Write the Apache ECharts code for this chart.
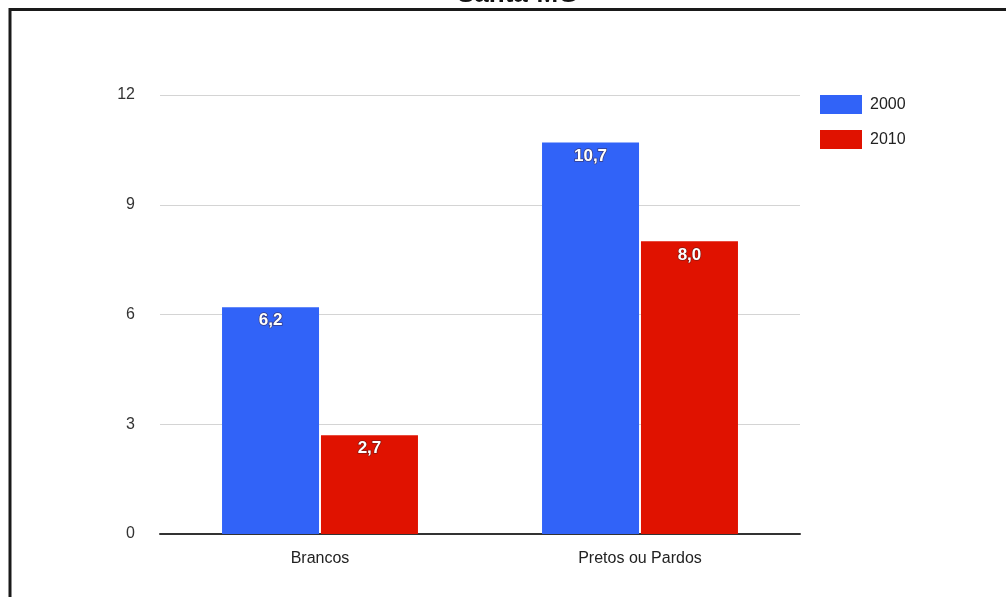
<!DOCTYPE html>
<html>
<head>
<meta charset="utf-8">
<style>
  html, body { margin: 0; padding: 0; background: #fff; }
  #chart { width: 1006px; height: 597px; }
</style>
<script src="https://cdn.jsdelivr.net/npm/echarts@6/dist/echarts.min.js"></script>
</head>
<body>
<div id="chart"></div>
<script>
// Categories and yearly values
const categories = ['Brancos', 'Pretos ou Pardos'];
const seriesNames = ['2000', '2010'];
const values2000 = [6.2, 10.7];
const values2010 = [2.7, 8.0];
const yTicks = [0, 3, 6, 9, 12];

const colors = ['#3163F8', '#E01200'];
const fmt = v => v.toFixed(1).replace('.', ',');

const chart = echarts.init(document.getElementById('chart'), null, { renderer: 'canvas' });

function barSeries(name, data, color) {
  return {
    name: name,
    type: 'bar',
    data: data,
    barWidth: 97,
    barGap: '2%',
    itemStyle: { color: color },
    label: {
      show: true,
      position: 'insideTop',
      distance: 5,
      formatter: p => fmt(p.value),
      color: '#fff',
      fontFamily: 'Liberation Sans, Arial, sans-serif',
      fontWeight: 'bold',
      fontSize: 17,
      textBorderColor: 'rgba(60,30,30,0.55)',
      textBorderWidth: 1.5
    }
  };
}

chart.setOption({
  animation: false,
  backgroundColor: '#fff',
  title: {
    text: 'Santa-MG',
    left: 452,
    top: -23,
    textStyle: {
      fontFamily: 'Liberation Sans, Arial, sans-serif',
      fontWeight: 'bold',
      fontSize: 26,
      color: '#111'
    }
  },
  graphic: [{
    type: 'polyline',
    shape: { points: [[10, 600], [10, 9.5], [1010, 9.5]] },
    style: { stroke: '#1a1a1a', lineWidth: 3, fill: null },
    silent: true
  }],
  legend: {
    data: seriesNames,
    orient: 'vertical',
    left: 815,
    top: 90,
    itemWidth: 42,
    itemHeight: 19,
    itemGap: 16,
    icon: 'rect',
    textStyle: {
      fontFamily: 'Liberation Sans, Arial, sans-serif',
      fontSize: 16,
      color: '#222',
      padding: [2, 0, 0, 3]
    }
  },
  grid: {
    left: 160,
    width: 640,
    top: 95,
    bottom: 63,
    containLabel: false
  },
  xAxis: {
    type: 'category',
    data: categories,
    axisLine: { lineStyle: { color: '#333', width: 2 } },
    axisTick: { show: false },
    axisLabel: {
      margin: 17,
      fontFamily: 'Liberation Sans, Arial, sans-serif',
      fontSize: 16,
      color: '#222'
    }
  },
  yAxis: {
    type: 'value',
    min: yTicks[0],
    max: yTicks[yTicks.length - 1],
    interval: 3,
    axisLine: { show: false },
    axisTick: { show: false },
    splitLine: { lineStyle: { color: '#d4d4d4', width: 1 } },
    axisLabel: {
      margin: 25,
      fontFamily: 'Liberation Sans, Arial, sans-serif',
      fontSize: 16,
      color: '#333'
    }
  },
  series: [
    barSeries(seriesNames[0], values2000, colors[0]),
    barSeries(seriesNames[1], values2010, colors[1])
  ]
});
</script>
</body>
</html>
